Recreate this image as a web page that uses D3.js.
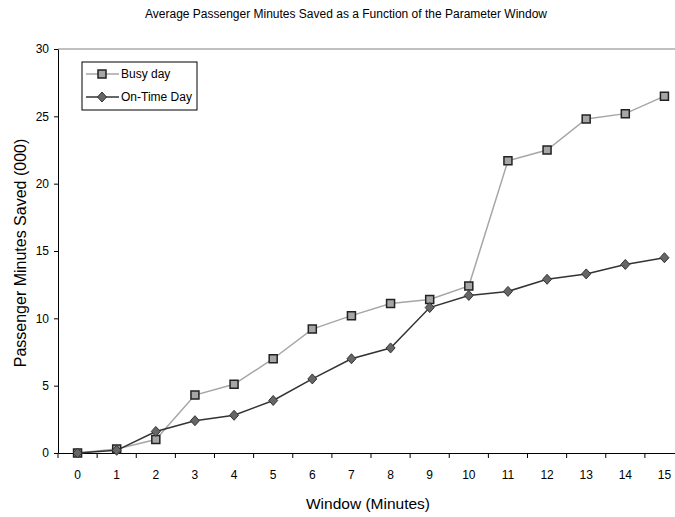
<!DOCTYPE html>
<meta charset="utf-8">
<style>
body { margin:0; background:#fff; }
svg { display:block; font-family: "Liberation Sans", Arial, sans-serif; }
.axis path, .axis line { stroke:#000; }
.axis text { font-size:12px; fill:#000; }
</style>
<svg width="675" height="517"></svg>
<script src="https://d3js.org/d3.v7.min.js"></script>
<script>
var windows = d3.range(0, 16);
var busyDay = [0, 0.3, 1.0, 4.3, 5.1, 7.0, 9.2, 10.2, 11.1, 11.4, 12.4, 21.7, 22.5, 24.8, 25.2, 26.5];
var onTimeDay = [0, 0.2, 1.6, 2.4, 2.8, 3.9, 5.5, 7.0, 7.8, 10.8, 11.7, 12.0, 12.9, 13.3, 14.0, 14.5];
var yTicks = [0, 5, 10, 15, 20, 25, 30];

var svg = d3.select("svg");
var x0 = 58, x1 = 684, y0 = 453, y1 = 49;

var x = d3.scaleBand().domain(windows).range([x0, x1]);
var y = d3.scaleLinear().domain([0, 30]).range([y0, y1]);

// top border of plot area
svg.append("line")
    .attr("x1", x0).attr("x2", x1)
    .attr("y1", y1).attr("y2", y1)
    .attr("stroke", "#808080");

// y axis
svg.append("g")
    .attr("class", "axis")
    .attr("transform", "translate(" + x0 + ",0)")
    .call(d3.axisLeft(y).tickValues(yTicks).tickSize(4).tickPadding(5).tickSizeOuter(0));

// x axis, ticks between categories
var xAxis = svg.append("g")
    .attr("class", "axis")
    .attr("transform", "translate(0," + y0 + ")")
    .call(d3.axisBottom(x).tickSize(0).tickPadding(17).tickSizeOuter(0));
xAxis.selectAll(".sep")
    .data(windows.concat([16]))
    .enter().append("line")
    .attr("stroke", "#000")
    .attr("x1", function(d) { return x0 + d * x.step(); })
    .attr("x2", function(d) { return x0 + d * x.step(); })
    .attr("y1", 0).attr("y2", 5);

var cx = function(d, i) { return x(windows[i]) + x.bandwidth() / 2; };

var line = d3.line()
    .x(function(d, i) { return x(windows[i]) + x.bandwidth() / 2; })
    .y(function(d) { return y(d); });

// Busy day
svg.append("path")
    .datum(busyDay)
    .attr("fill", "none")
    .attr("stroke", "#a6a6a6")
    .attr("stroke-width", 1.5)
    .attr("d", line);

// On-Time day
svg.append("path")
    .datum(onTimeDay)
    .attr("fill", "none")
    .attr("stroke", "#333")
    .attr("stroke-width", 1.5)
    .attr("d", line);

var square = d3.symbol().type(d3.symbolSquare).size(64);
var diamond = "M0,-5L4.5,0L0,5L-4.5,0Z";

svg.append("g").selectAll("path")
    .data(busyDay)
    .enter().append("path")
    .attr("d", square)
    .attr("fill", "#a6a6a6")
    .attr("stroke", "#222")
    .attr("stroke-width", 1.5)
    .attr("transform", function(d, i) { return "translate(" + cx(d, i) + "," + y(d) + ")"; });

svg.append("g").selectAll("path")
    .data(onTimeDay)
    .enter().append("path")
    .attr("d", diamond)
    .attr("fill", "#666")
    .attr("stroke", "#333")
    .attr("stroke-width", 1)
    .attr("transform", function(d, i) { return "translate(" + cx(d, i) + "," + y(d) + ")"; });

// title and axis labels
svg.append("text")
    .attr("x", 346).attr("y", 18)
    .attr("text-anchor", "middle")
    .attr("font-size", "12px")
    .text("Average Passenger Minutes Saved as a Function of the Parameter Window");

svg.append("text")
    .attr("x", 368).attr("y", 509)
    .attr("text-anchor", "middle")
    .attr("font-size", "15.5px")
    .text("Window (Minutes)");

svg.append("text")
    .attr("transform", "translate(26,253) rotate(-90)")
    .attr("text-anchor", "middle")
    .attr("font-size", "16px")
    .text("Passenger Minutes Saved (000)");

// legend
var legend = svg.append("g").attr("transform", "translate(82,62)");
legend.append("rect")
    .attr("width", 115).attr("height", 48)
    .attr("fill", "#fff").attr("stroke", "#000");
var items = [
    {name: "Busy day", color: "#a6a6a6", marker: "square"},
    {name: "On-Time Day", color: "#333", marker: "diamond"}
];
var li = legend.selectAll(".li").data(items).enter().append("g")
    .attr("transform", function(d, i) { return "translate(0," + (12 + i * 23) + ")"; });
li.append("line")
    .attr("x1", 4).attr("x2", 37).attr("y1", 0).attr("y2", 0)
    .attr("stroke", function(d) { return d.color; })
    .attr("stroke-width", 1.5);
li.append("path")
    .attr("transform", "translate(20,0)")
    .attr("d", function(d) { return d.marker == "square" ? square() : diamond; })
    .attr("fill", function(d) { return d.marker == "square" ? "#a6a6a6" : "#666"; })
    .attr("stroke", function(d) { return d.marker == "square" ? "#222" : "#333"; })
    .attr("stroke-width", function(d) { return d.marker == "square" ? 1.5 : 1; });
li.append("text")
    .attr("x", 39).attr("y", 4)
    .attr("font-size", "12px")
    .text(function(d) { return d.name; });
</script>
